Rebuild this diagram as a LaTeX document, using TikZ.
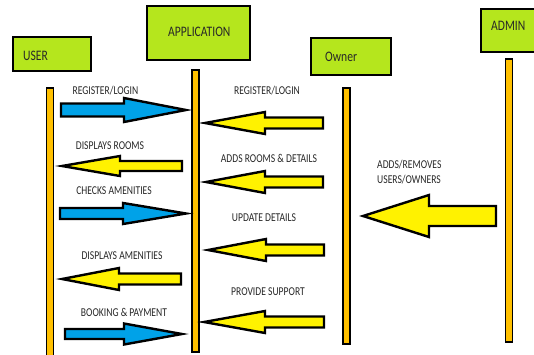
\documentclass[tikz,border=0pt]{standalone}
\usepackage{fontspec}
\newfontfamily\boxfont[FakeStretch=0.8]{Carlito}
\newfontfamily\lblfont[FakeStretch=0.8]{Carlito}
\definecolor{lime}{RGB}{181,230,29}
\definecolor{life}{RGB}{255,192,0}
\definecolor{ablue}{RGB}{0,162,232}
\definecolor{ayellow}{RGB}{255,242,0}
\definecolor{txt}{RGB}{40,40,40}
\tikzset{
  actor/.style={draw=black, line width=2.6pt, fill=lime, inner sep=0pt},
  actortext/.style={font=\boxfont\fontsize{14.5}{16}\selectfont, text=txt, inner sep=0pt, anchor=west},
  lifeline/.style={draw=black, line width=1.4pt, fill=life},
  msg/.style={font=\lblfont\fontsize{12}{14}\selectfont, text=txt, inner sep=0pt},
  barrow/.style={draw=black, line width=2.4pt, line join=miter, fill=ablue},
  yarrow/.style={draw=black, line width=2.4pt, line join=miter, fill=ayellow},
}
% #1 style, #2 tail x, #3 head-base x, #4 tip x, #5 y, #6 shaft half, #7 head half
\newcommand\blockarr[7]{%
  \draw[#1] (#2,#5-#6) -- (#3,#5-#6) -- (#3,#5-#7) -- (#4,#5) -- (#3,#5+#7) -- (#3,#5+#6) -- (#2,#5+#6) -- cycle;}
\begin{document}
\begin{tikzpicture}[x=1pt,y=-1pt]
\useasboundingbox (0,0) rectangle (534,354);
\fill[white] (0,0) rectangle (534,354);
% actors
\draw[actor] (13,37) rectangle (91,71);
\node[actortext] (user) at (23,56) {USER};
\draw[actor] (147,6) rectangle (250,60);
\node[actortext] (app) at (168,32) {APPLICATION};
\draw[actor] (311,38) rectangle (391,75);
\node[actortext] (owner) at (325,56.5) {Owner};
\draw[actor] (481,9) rectangle (545,52);
\node[actortext] (admin) at (491,26) {ADMIN};
% lifelines
\draw[lifeline] (46.5,88) rectangle (53.5,360);
\draw[lifeline] (192,70) rectangle (199,352);
\draw[lifeline] (343,88) rectangle (350,344);
\draw[lifeline] (505.5,59) rectangle (512.5,342);
% user <-> application
\blockarr{barrow}{61}{124}{186}{110}{6.5}{12}
\node[msg] (m1) at (105.5,91) {REGISTER/LOGIN};
\blockarr{yarrow}{182}{120}{62}{166}{5}{10}
\node[msg] (m2) at (110,146) {DISPLAYS ROOMS};
\blockarr{barrow}{60}{123}{186}{213.5}{5.5}{10.5}
\node[msg] (m3) at (114,191) {CHECKS AMENITIES};
\blockarr{yarrow}{181}{119}{62}{279}{5.5}{11}
\node[msg] (m4) at (122,256) {DISPLAYS AMENITIES};
\blockarr{barrow}{65}{124}{182}{334}{5}{10.5}
\node[msg] (m5) at (124,312) {BOOKING \& PAYMENT};
% owner -> application
\blockarr{yarrow}{323}{265}{205}{123}{5.5}{11}
\node[msg] (m6) at (267,91) {REGISTER/LOGIN};
\blockarr{yarrow}{323}{265}{206}{182}{5.5}{11}
\node[msg] (m7) at (269,158) {ADDS ROOMS \& DETAILS};
\blockarr{yarrow}{324}{266}{208}{250}{5.5}{11}
\node[msg] (m8) at (264,218) {UPDATE DETAILS};
\blockarr{yarrow}{324}{265}{204}{322}{5.5}{11}
\node[msg] (m9) at (268,292) {PROVIDE SUPPORT};
% admin -> owner
\blockarr{yarrow}{496}{429}{363}{216}{10}{21}
\node[msg, anchor=west] (m10) at (377,165) {ADDS/REMOVES};
\node[msg, anchor=west] (m11) at (377,180) {USERS/OWNERS};
\end{tikzpicture}
\end{document}
